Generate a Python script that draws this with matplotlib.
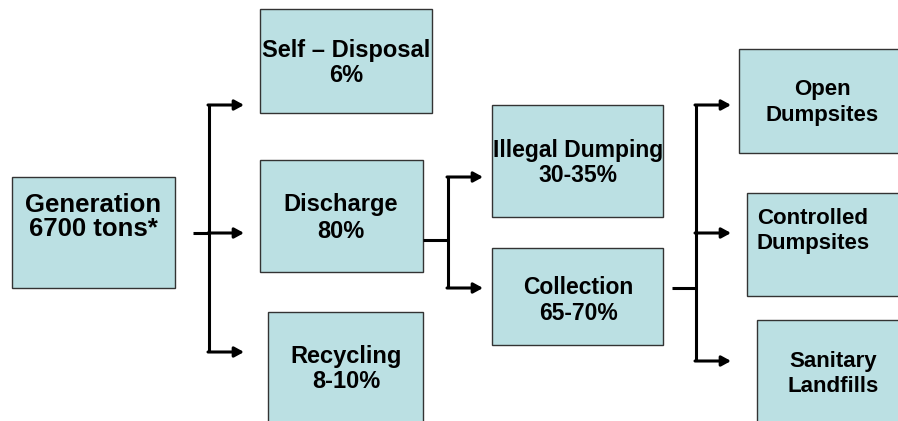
import matplotlib.pyplot as plt
from matplotlib.patches import Rectangle

# Flow chart content
stages = ['Generation', 'Self \u2013 Disposal', 'Discharge', 'Recycling',
          'Illegal Dumping', 'Collection',
          'Open', 'Controlled', 'Sanitary']
shares = ['6700 tons*', '6%', '80%', '8-10%',
          '30-35%', '65-70%',
          'Dumpsites', 'Dumpsites', 'Landfills']

# box layout in pixels: left, top, right, bottom, text x, line1 y, line2 y, align, size
layout = [
    (12, 177, 175, 288, 93, 205, 229, 'center', 18.5),
    (260, 9, 432, 113, 346, 50, 76, 'center', 17),
    (260, 160, 423, 272, 341, 205, 231, 'center', 17),
    (268, 312, 423, 430, 346, 356, 381, 'center', 17),
    (492, 105, 663, 217, 578, 150, 175, 'center', 16.5),
    (492, 248, 663, 345, 578, 288, 314, 'center', 16.5),
    (739, 49, 905, 153, 822, 90, 115, 'center', 16),
    (747, 193, 905, 296, 757, 218, 243, 'left', 16),
    (757, 320, 905, 430, 833, 362, 387, 'center', 16),
]

fig = plt.figure(figsize=(8.98, 4.21), dpi=100)
ax = fig.add_axes([0, 0, 1, 1])
ax.set_xlim(0, 898)
ax.set_ylim(421, 0)
ax.axis('off')

fill = '#BBE0E3'
for name, share, (l, t, r, b, tx, y1, y2, ha, fs) in zip(stages, shares, layout):
    ax.add_patch(Rectangle((l, t), r - l, b - t, facecolor=fill,
                           edgecolor='#333333', linewidth=1.0))
    for txt, ty in ((name, y1), (share, y2)):
        ax.text(tx, ty, txt, ha=ha, va='center', fontsize=fs,
                fontweight='bold', family='Liberation Sans', color='black')

lw = 2.2


def line(xs, ys):
    ax.plot(xs, ys, color='black', linewidth=lw, solid_capstyle='butt',
            solid_joinstyle='miter')


def arrow(x0, x1, y):
    ax.annotate('', xy=(x1, y), xytext=(x0, y),
                arrowprops=dict(arrowstyle='-|>,head_length=0.55,head_width=0.3',
                                color='black', lw=lw, shrinkA=0, shrinkB=0))


# Generation -> first split
line([193, 209], [233, 233])
line([209, 209], [105, 352])
for y in (105, 233, 352):
    arrow(208, 244, y)

# Discharge -> second split
line([423, 448], [240, 240])
line([448, 448], [177, 288])
for y in (177, 288):
    arrow(447, 483, y)

# Collection -> disposal sites
line([672, 696], [288, 288])
line([696, 696], [105, 361])
for y in (105, 233, 361):
    arrow(695, 731, y)

plt.savefig('out.png', dpi=100)
